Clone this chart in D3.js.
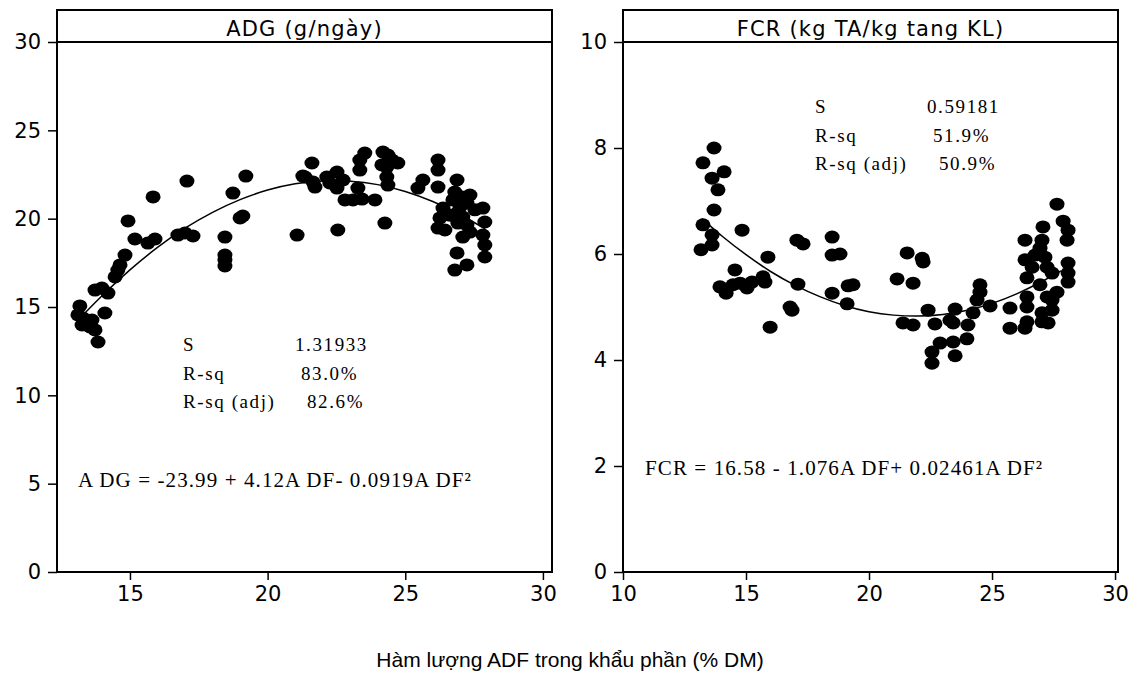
<!DOCTYPE html>
<html>
<head>
<meta charset="utf-8">
<script src="https://cdn.jsdelivr.net/npm/d3@7"></script>
<style>
  body { margin: 0; background: #fff; }
  svg { display: block; }
</style>
</head>
<body>
<svg id="chart" width="1132" height="678"></svg>
<script>
// ADG panel: ADF (% DM) vs daily gain
var adgAdf = [13.18,13.11,13.29,13.62,13.26,13.55,13.73,14.09,13.84,13.73,13.98,14.20,14.46,14.56,14.64,14.82,14.93,15.18,15.65,15.91,15.84,16.74,17.00,17.29,17.07,18.45,18.45,18.45,18.45,18.74,19.00,19.10,19.21,21.07,21.28,21.61,21.36,21.65,21.72,22.15,22.26,22.52,22.52,22.74,22.55,22.81,23.10,23.43,23.90,23.28,23.35,23.53,23.35,24.19,24.37,24.15,24.33,24.52,24.73,24.33,24.37,24.26,25.46,25.64,26.19,26.19,26.19,26.88,26.80,27.06,27.35,26.73,26.99,27.24,26.37,26.26,26.19,26.44,26.88,27.09,26.91,27.24,27.09,27.35,27.82,27.89,27.82,27.89,27.89,26.88,27.24,26.80,26.62,27.53];
var adgValues = [15.06,14.55,14.38,14.26,13.98,13.87,13.70,14.66,13.02,15.96,16.07,15.79,16.70,17.09,17.38,17.94,19.87,18.85,18.62,18.85,21.23,19.07,19.19,19.02,22.13,18.96,17.94,17.66,17.32,21.45,20.04,20.15,22.41,19.07,22.41,23.15,22.36,22.07,21.79,22.36,22.02,22.64,21.73,22.19,19.36,21.06,21.06,21.11,21.06,21.73,23.32,23.71,22.75,23.77,23.60,23.04,22.92,23.32,23.15,22.36,21.90,19.75,21.73,22.19,23.32,22.75,21.79,22.19,21.51,21.23,21.34,21.06,20.66,20.88,20.60,20.04,19.47,19.36,20.32,20.09,19.75,19.64,18.96,19.24,20.60,19.81,19.07,18.51,17.83,18.06,17.38,17.09,20.20,20.50];
var adgFitAdf = [13.3,14,15,16,17,18,19,20,21,22,23,24,25,26,27,27.9];
var adgFitValues = [14.55,15.68,17.13,18.40,19.49,20.39,21.11,21.65,22.00,22.17,22.15,21.96,21.57,21.00,20.25,19.42];

// FCR panel
var fcrAdf = [13.25,13.70,13.62,14.11,13.86,13.70,13.25,13.62,13.62,13.17,14.84,14.55,13.94,14.19,14.47,14.76,15.04,15.24,15.69,15.77,15.89,15.98,16.79,16.87,17.07,17.32,17.11,18.50,18.50,18.82,18.50,19.11,19.15,19.35,21.14,21.79,21.55,22.20,22.16,21.38,21.79,22.40,22.68,22.56,22.89,23.42,23.98,23.50,22.56,23.29,23.50,23.42,24.02,24.23,24.39,24.51,24.51,24.92,25.73,25.73,26.34,26.42,26.42,26.42,26.42,26.34,26.34,27.03,27.07,26.95,27.15,27.24,27.44,27.64,27.44,27.24,27.03,27.44,27.28,27.03,27.64,27.89,28.09,28.05,28.09,28.09,28.09,26.63,26.75,26.95];
var fcrValues = [7.72,8.00,7.43,7.55,7.21,6.83,6.55,6.36,6.17,6.08,6.45,5.70,5.38,5.26,5.42,5.45,5.36,5.47,5.57,5.47,5.94,4.62,5.00,4.94,6.26,6.19,5.43,6.32,5.98,6.00,5.26,5.06,5.40,5.42,5.53,5.45,6.02,5.85,5.92,4.70,4.66,4.94,4.68,4.15,4.32,4.34,4.40,4.08,3.94,4.75,4.96,4.70,4.66,4.89,5.13,5.42,5.28,5.02,4.98,4.60,4.60,4.72,5.00,5.19,5.55,5.89,6.26,6.26,6.51,6.11,5.94,5.75,5.64,5.28,5.13,5.19,4.89,4.94,4.70,4.72,6.94,6.62,6.45,6.26,5.83,5.64,5.47,5.75,5.98,5.42];
var fcrFitAdf = [13.2,14,15,16,17,18,19,20,21,22,23,24,25,26,27,27.8];
var fcrFitValues = [6.67,6.34,5.98,5.66,5.40,5.19,5.02,4.90,4.84,4.82,4.85,4.93,5.06,5.24,5.47,5.68];

// ticks and labels
var adgXTicks = [15, 20, 25, 30];
var adgYTicks = [0, 5, 10, 15, 20, 25, 30];
var fcrXTicks = [10, 15, 20, 25, 30];
var fcrYTicks = [0, 2, 4, 6, 8, 10];
var titles = ["ADG (g/ngày)", "FCR (kg TA/kg tang KL)"];
var adgStats = [["S", "1.31933"], ["R-sq", "83.0%"], ["R-sq (adj)", "82.6%"]];
var fcrStats = [["S", "0.59181"], ["R-sq", "51.9%"], ["R-sq (adj)", "50.9%"]];
var adgEquation = ["A", "DG = -23.99 + 4.12A", "DF- 0.0919A", "DF²"];
var fcrEquation = ["FCR = 16.58 - 1.076A", "DF+ 0.02461A", "DF²"];
var xAxisTitle = "Hàm lượng ADF trong khẩu phần (% DM)";

var svg = d3.select("#chart");
var top0 = 10, titleBottom = 42, bottom0 = 572;

function drawPanel(p) {
  var g = svg.append("g");
  var x = d3.scaleLinear().domain(p.xDomain).range([p.left, p.right]);
  var y = d3.scaleLinear().domain(p.yDomain).range([bottom0, titleBottom]);

  // fit line
  var line = d3.line()
    .curve(d3.curveBasis)
    .x(d => x(d[0]))
    .y(d => y(d[1]));
  g.append("path")
    .datum(d3.zip(p.fitX, p.fitY))
    .attr("d", line)
    .attr("fill", "none")
    .attr("stroke", "#000")
    .attr("stroke-width", 1.5);

  // points
  g.append("g").selectAll("ellipse")
    .data(d3.zip(p.xs, p.ys))
    .join("ellipse")
      .attr("cx", d => x(d[0]))
      .attr("cy", d => y(d[1]))
      .attr("rx", 7.5)
      .attr("ry", 6.5)
      .attr("fill", "#000");

  // frame
  g.append("rect")
    .attr("x", p.left).attr("y", top0)
    .attr("width", p.right - p.left).attr("height", bottom0 - top0)
    .attr("fill", "none").attr("stroke", "#000").attr("stroke-width", 2);
  g.append("line")
    .attr("x1", p.left).attr("x2", p.right)
    .attr("y1", titleBottom).attr("y2", titleBottom)
    .attr("stroke", "#000").attr("stroke-width", 2);

  g.append("text")
    .attr("x", (p.left + p.right) / 2)
    .attr("y", 36)
    .attr("text-anchor", "middle")
    .style("font", "21px 'DejaVu Sans'")
    .style("letter-spacing", "1.2px")
    .text(p.title);

  var yAxis = d3.axisLeft(y).tickValues(p.yTicks).tickSize(9).tickPadding(7).tickFormat(d3.format("d"));
  var xAxis = d3.axisBottom(x).tickValues(p.xTicks).tickSize(8).tickPadding(6).tickFormat(d3.format("d"));

  g.append("g")
    .attr("transform", "translate(" + p.left + ",0)")
    .call(yAxis)
    .call(a => a.select(".domain").remove());
  g.append("g")
    .attr("transform", "translate(0," + bottom0 + ")")
    .call(xAxis)
    .call(a => a.select(".domain").remove());
  g.selectAll(".tick line").attr("stroke", "#000").attr("stroke-width", 1.5);
  g.selectAll(".tick text")
    .attr("fill", "#000")
    .style("font-family", "'DejaVu Sans'")
    .style("font-size", "21px");

  // stats block
  var stats = g.append("g").style("font", "19px 'Liberation Serif'").style("letter-spacing", "1.6px");
  p.stats.forEach(function (row, i) {
    stats.append("text").attr("x", p.statsX).attr("y", p.statsY + i * 28.5).text(row[0]);
    stats.append("text").attr("x", p.statsX + 112 + i * 6).attr("y", p.statsY + i * 28.5).text(row[1]);
  });

  // equation
  var eq = g.append("text")
    .attr("x", p.eqX).attr("y", p.eqY)
    .style("font", "21px 'Liberation Serif'")
    .style("letter-spacing", "1.1px");
  eq.selectAll("tspan")
    .data(p.equation)
    .join("tspan")
      .attr("dx", (d, i) => i ? 5 : 0)
      .text(d => d);
}

drawPanel({
  left: 57, right: 552,
  xDomain: [12.35, 30.33], yDomain: [0, 30],
  xs: adgAdf, ys: adgValues, fitX: adgFitAdf, fitY: adgFitValues,
  xTicks: adgXTicks, yTicks: adgYTicks,
  title: titles[0], stats: adgStats, statsX: 183, statsY: 351,
  equation: adgEquation, eqX: 78, eqY: 487
});

drawPanel({
  left: 623, right: 1118,
  xDomain: [10, 30.12], yDomain: [0, 10],
  xs: fcrAdf, ys: fcrValues, fitX: fcrFitAdf, fitY: fcrFitValues,
  xTicks: fcrXTicks, yTicks: fcrYTicks,
  title: titles[1], stats: fcrStats, statsX: 815, statsY: 113,
  equation: fcrEquation, eqX: 645, eqY: 475
});

svg.append("text")
  .attr("x", 570)
  .attr("y", 667)
  .attr("text-anchor", "middle")
  .style("font", "21px 'Liberation Sans'")
  .text(xAxisTitle);
</script>
</body>
</html>
